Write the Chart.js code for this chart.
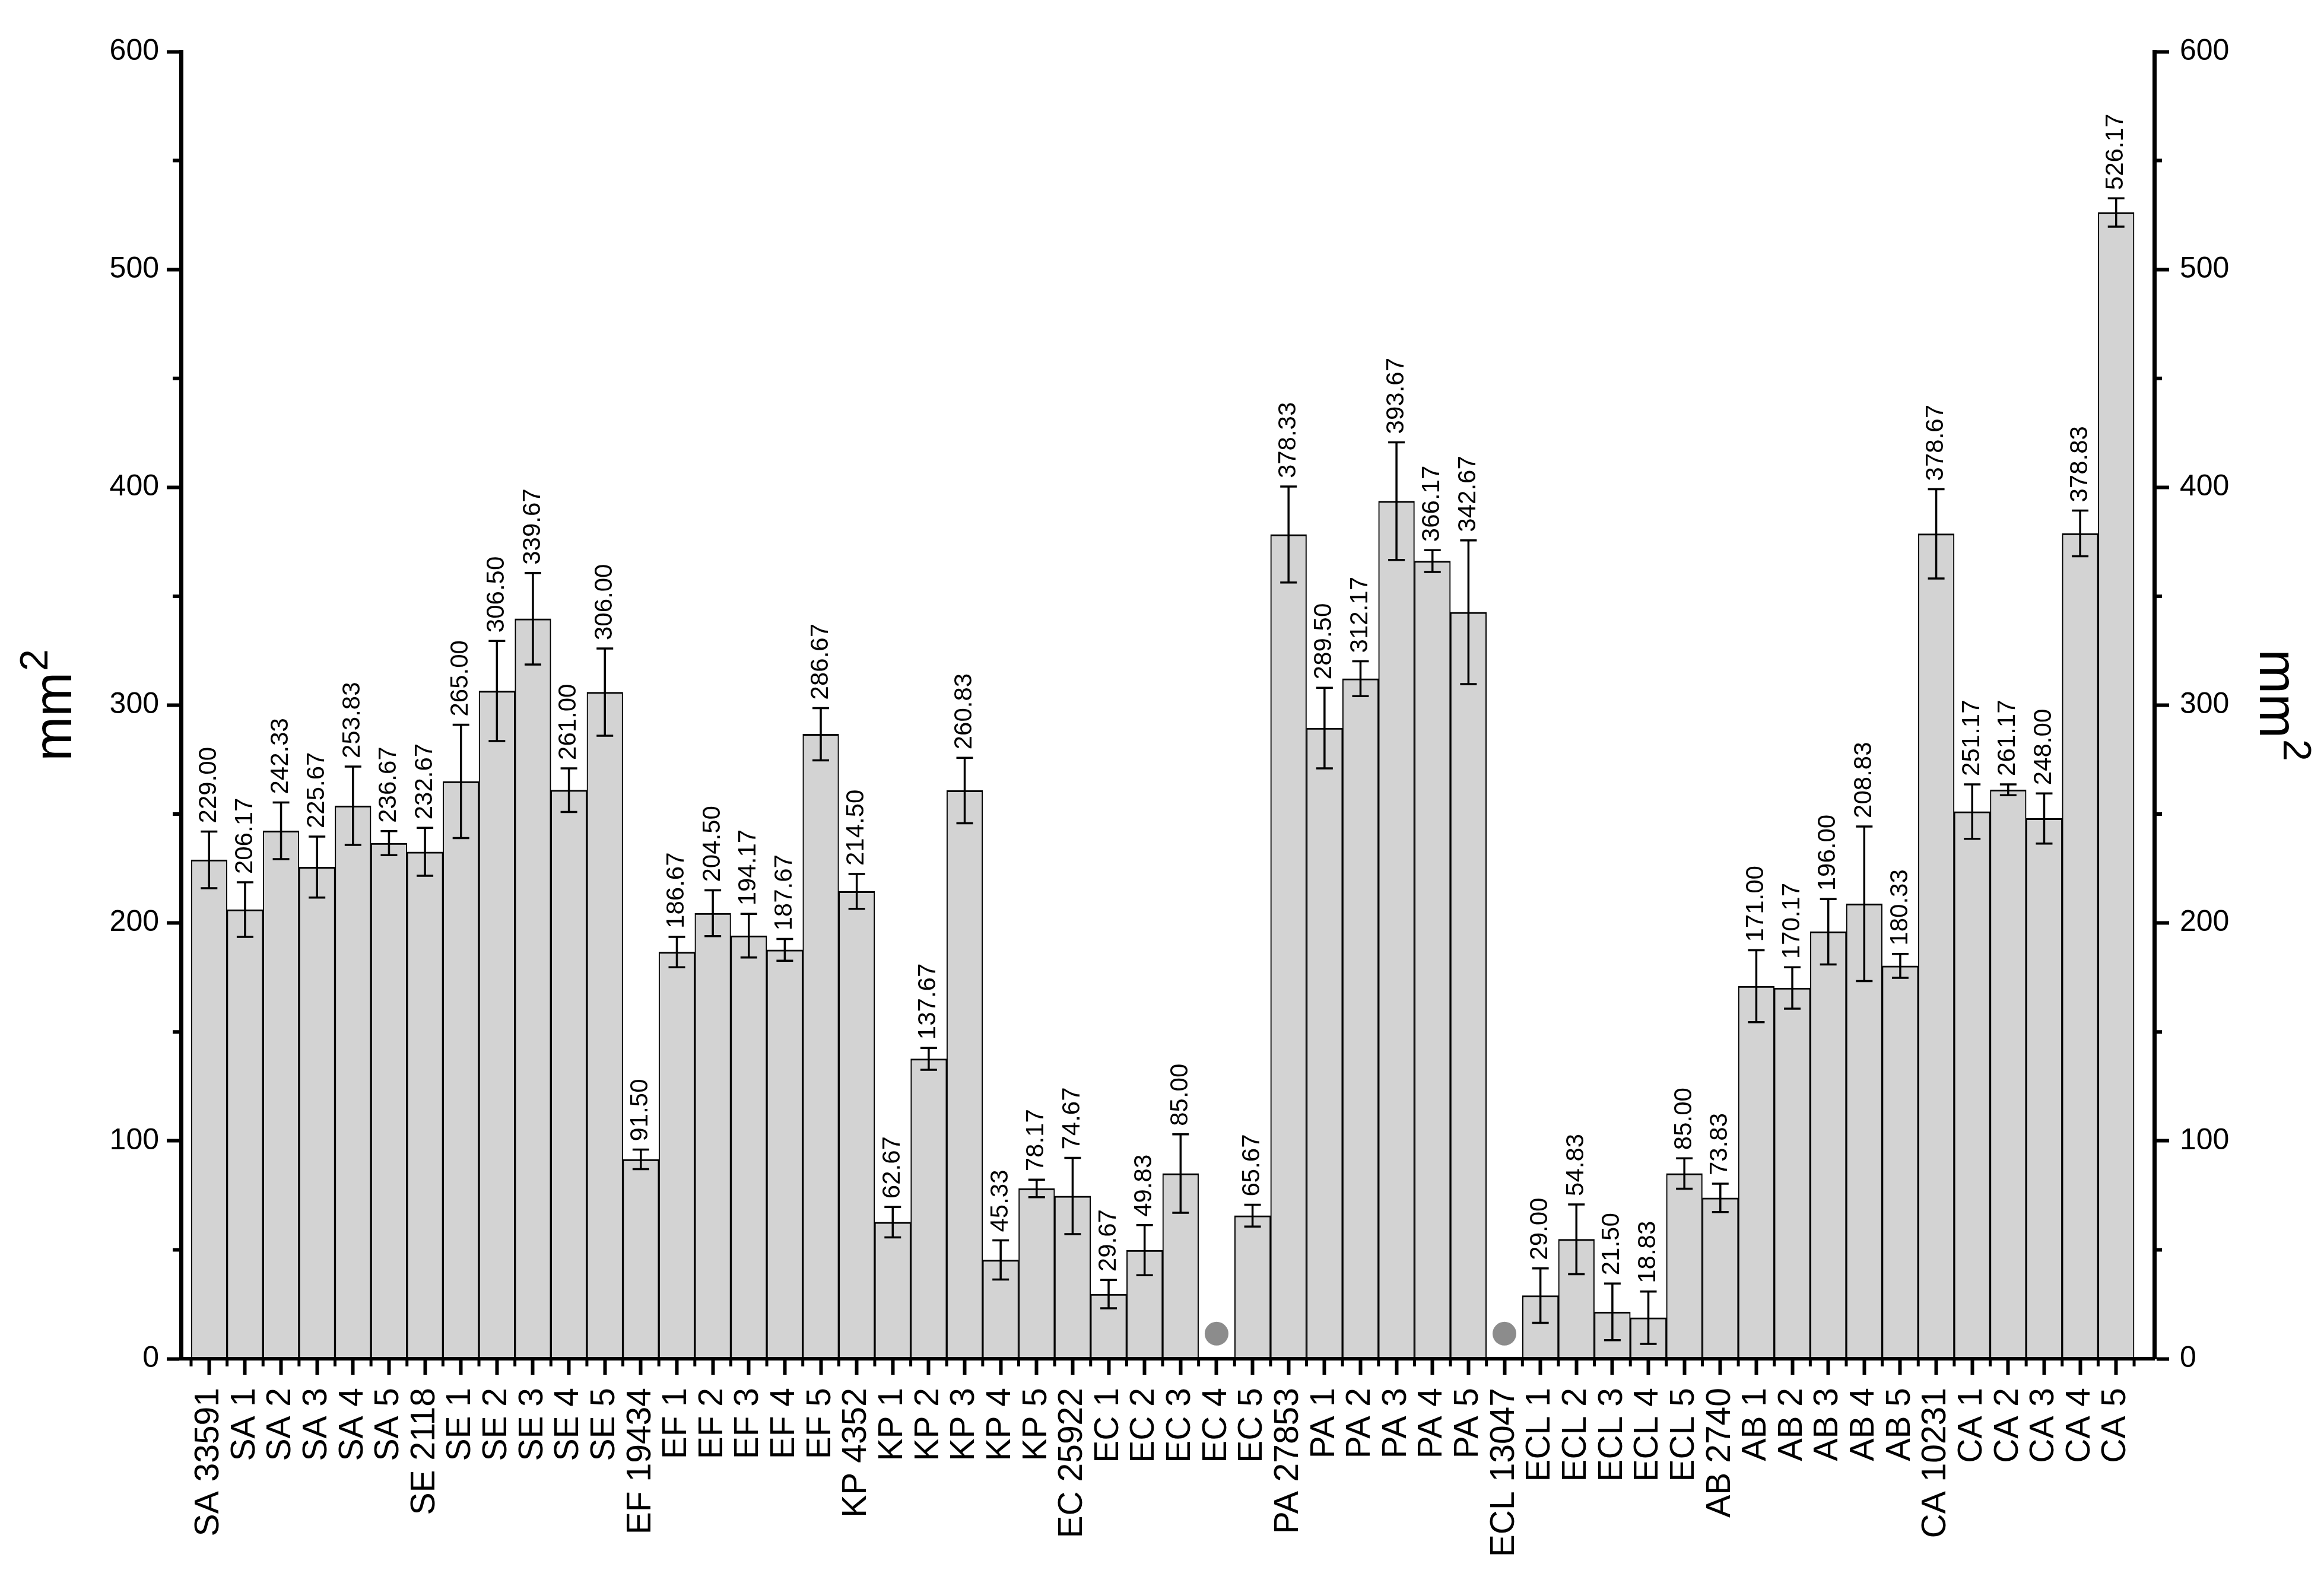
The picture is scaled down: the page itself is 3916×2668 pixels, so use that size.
<!DOCTYPE html>
<html>
<head>
<meta charset="utf-8">
<script src="https://cdn.jsdelivr.net/npm/chart.js@4"></script>
<style>
  html, body { margin: 0; padding: 0; background: #fff; }
  #wrap { width: 3916px; height: 2668px; }
</style>
</head>
<body>
<div id="wrap"><canvas id="areaChart" width="3916" height="2668"></canvas></div>
<script>
// strains / isolates
const labels = [
  'SA 33591', 'SA 1', 'SA 2', 'SA 3', 'SA 4', 'SA 5',
  'SE 2118', 'SE 1', 'SE 2', 'SE 3', 'SE 4', 'SE 5',
  'EF 19434', 'EF 1', 'EF 2', 'EF 3', 'EF 4', 'EF 5',
  'KP 4352', 'KP 1', 'KP 2', 'KP 3', 'KP 4', 'KP 5',
  'EC 25922', 'EC 1', 'EC 2', 'EC 3', 'EC 4', 'EC 5',
  'PA 27853', 'PA 1', 'PA 2', 'PA 3', 'PA 4', 'PA 5',
  'ECL 13047', 'ECL 1', 'ECL 2', 'ECL 3', 'ECL 4', 'ECL 5',
  'AB 2740', 'AB 1', 'AB 2', 'AB 3', 'AB 4', 'AB 5',
  'CA 10231', 'CA 1', 'CA 2', 'CA 3', 'CA 4', 'CA 5'
];

// mean area (mm2), null = no value
const means = [
  229.00, 206.17, 242.33, 225.67, 253.83, 236.67,
  232.67, 265.00, 306.50, 339.67, 261.00, 306.00,
  91.50, 186.67, 204.50, 194.17, 187.67, 286.67,
  214.50, 62.67, 137.67, 260.83, 45.33, 78.17,
  74.67, 29.67, 49.83, 85.00, null, 65.67,
  378.33, 289.50, 312.17, 393.67, 366.17, 342.67,
  null, 29.00, 54.83, 21.50, 18.83, 85.00,
  73.83, 171.00, 170.17, 196.00, 208.83, 180.33,
  378.67, 251.17, 261.17, 248.00, 378.83, 526.17
];

// error bar half-lengths
const errors = [
  13, 12.5, 13, 14, 18, 5.5,
  11, 26, 23, 21, 10, 20,
  4.5, 7, 10.5, 10, 5, 12,
  8, 7, 5, 15, 9, 4,
  17.5, 6.5, 11.5, 18, null, 5,
  22, 18.5, 8, 27, 5, 33,
  null, 12.5, 16, 13, 12, 7,
  6.5, 16.5, 9.5, 15, 35.5, 5.5,
  20.5, 12.5, 2.5, 11.5, 10.5, 6.5
];

// grey dots where there was no bar
const noGrowth = ['EC 4', 'ECL 13047'];
const noGrowthLevel = 11.5;

const yTicks = [0, 100, 200, 300, 400, 500, 600];
const yMinorTicks = [50, 150, 250, 350, 450, 550];

const FONT = '"Liberation Sans", Arial, Helvetica, sans-serif';
Chart.defaults.font.family = FONT;
Chart.defaults.color = '#000';

// extra room between the axes and the first / last bar (in categories)
const leftGap = 0.28;
const rightGap = 0.56;

const decor = {
  id: 'decor',
  afterDatasetsDraw(chart) {
    const ctx = chart.ctx;
    const y = chart.scales.y;
    const area = chart.chartArea;
    const meta = chart.getDatasetMeta(0);
    ctx.save();
    ctx.strokeStyle = '#000';
    ctx.fillStyle = '#000';
    // x axis line again, over the bar bottoms
    ctx.lineWidth = 6;
    ctx.beginPath();
    ctx.moveTo(area.left, area.bottom); ctx.lineTo(area.right, area.bottom);
    ctx.stroke();
    means.forEach((v, i) => {
      if (v === null) return;
      const e = errors[i];
      const x = meta.data[i].x;
      const yt = y.getPixelForValue(v + e);
      const yb = y.getPixelForValue(v - e);
      ctx.lineWidth = 3.5;
      ctx.beginPath();
      ctx.moveTo(x, yt); ctx.lineTo(x, yb);
      ctx.moveTo(x - 14, yt); ctx.lineTo(x + 14, yt);
      ctx.moveTo(x - 14, yb); ctx.lineTo(x + 14, yb);
      ctx.stroke();
      // value label, rotated
      ctx.save();
      ctx.translate(x, yt - 14);
      ctx.rotate(-Math.PI / 2);
      ctx.font = '42px ' + FONT;
      ctx.textAlign = 'left';
      ctx.textBaseline = 'middle';
      ctx.fillText(v.toFixed(2), 0, 0);
      ctx.restore();
    });
    ctx.restore();
  },
  afterDraw(chart) {
    const ctx = chart.ctx;
    const { x, y } = chart.scales;
    const area = chart.chartArea;
    ctx.save();
    ctx.strokeStyle = '#000';
    // minor ticks on both y axes
    ctx.lineWidth = 6;
    yMinorTicks.forEach(t => {
      const py = y.getPixelForValue(t);
      ctx.beginPath();
      ctx.moveTo(area.left, py); ctx.lineTo(area.left - 14, py);
      ctx.moveTo(area.right, py); ctx.lineTo(area.right + 13, py);
      ctx.stroke();
    });
    // minor ticks between bars
    ctx.lineWidth = 5;
    for (let i = 0; i <= labels.length; i++) {
      const px = x.getPixelForValue(i - 0.5);
      ctx.beginPath();
      ctx.moveTo(px, area.bottom); ctx.lineTo(px, area.bottom + 13);
      ctx.stroke();
    }
    // axis titles mm² (left reads upward, right reads downward)
    const cy = (area.top + area.bottom) / 2;
    const drawTitle = (bx, angle) => {
      ctx.save();
      ctx.translate(bx, cy);
      ctx.rotate(angle);
      ctx.fillStyle = '#000';
      ctx.textBaseline = 'alphabetic';
      ctx.textAlign = 'left';
      ctx.font = '90px ' + FONT;
      const wm = ctx.measureText('mm').width;
      ctx.font = '66px ' + FONT;
      const w2 = ctx.measureText('2').width;
      const start = -(wm + 2 + w2) / 2;
      ctx.font = '90px ' + FONT;
      ctx.fillText('mm', start, 0);
      ctx.font = '66px ' + FONT;
      ctx.fillText('2', start + wm + 2, -40);
      ctx.restore();
    };
    drawTitle(120, -Math.PI / 2);
    drawTitle(3808, Math.PI / 2);
    ctx.restore();
  }
};

const ctx = document.getElementById('areaChart').getContext('2d');
const areaChart = new Chart(ctx, {
  type: 'bar',
  data: {
    labels: labels,
    datasets: [{
      label: 'mm2',
      data: means,
      yAxisID: 'y',
      backgroundColor: c => c.raw === null ? 'rgba(0,0,0,0)' : '#d3d3d3',
      borderColor: '#000',
      borderWidth: c => c.raw === null ? 0 : { top: 3, left: 2, right: 2, bottom: 0 },
      borderSkipped: 'bottom',
      barPercentage: 1.0,
      categoryPercentage: 1.0
    }, {
      type: 'line',
      label: 'no growth',
      data: labels.map(l => noGrowth.includes(l) ? noGrowthLevel : null),
      yAxisID: 'y',
      showLine: false,
      pointRadius: 20,
      pointBackgroundColor: '#8c8c8c',
      pointBorderWidth: 0
    }]
  },
  options: {
    responsive: false,
    animation: false,
    devicePixelRatio: 1,
    layout: { padding: { top: 87, right: 0, bottom: 0, left: 0 } },
    plugins: {
      legend: { display: false },
      tooltip: { enabled: false }
    },
    scales: {
      x: {
        type: 'category',
        offset: true,
        afterBuildTicks(axis) {
          axis._startValue = -0.5 - leftGap;
          axis._valueRange = labels.length + leftGap + rightGap;
        },
        afterFit(axis) { axis.height = 378; },
        grid: {
          display: true, drawOnChartArea: false, offset: false,
          tickLength: 27, tickWidth: 6, tickColor: '#000'
        },
        border: { display: true, width: 6, color: '#000' },
        ticks: {
          autoSkip: false, maxRotation: 90, minRotation: 90,
          padding: 22, color: '#000', font: { size: 57 }
        }
      },
      y: {
        position: 'left',
        min: 0, max: 600,
        afterBuildTicks(axis) { axis.ticks = yTicks.map(v => ({ value: v })); },
        afterFit(axis) { axis.width = 305; },
        grid: { drawOnChartArea: false, tickLength: 24, tickWidth: 6, tickColor: '#000' },
        border: { display: true, width: 7, color: '#000' },
        ticks: { padding: 13, color: '#000', font: { size: 50 } }
      },
      y2: {
        position: 'right',
        min: 0, max: 600,
        afterBuildTicks(axis) { axis.ticks = yTicks.map(v => ({ value: v })); },
        afterFit(axis) { axis.width = 286; },
        grid: { drawOnChartArea: false, tickLength: 25, tickWidth: 6, tickColor: '#000' },
        border: { display: true, width: 7, color: '#000' },
        ticks: { padding: 18, color: '#000', font: { size: 50 } }
      }
    }
  },
  plugins: [decor]
});
</script>
</body>
</html>
